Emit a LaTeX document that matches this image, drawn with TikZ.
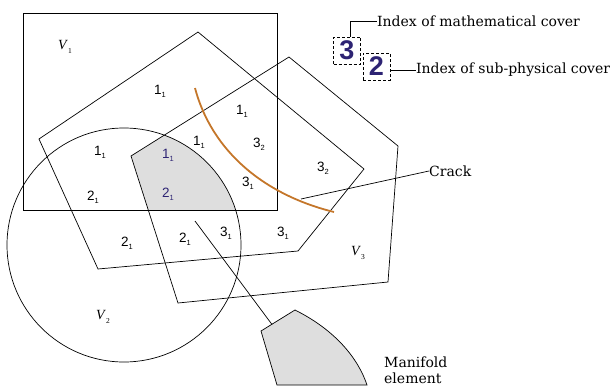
\documentclass[tikz,border=0pt]{standalone}
\usepackage{fontspec}
\setmainfont{DejaVu Serif}
\newfontfamily\numfont{Liberation Sans}
\newfontfamily\vfont{Liberation Serif}
\definecolor{crackc}{RGB}{196,118,42}
\definecolor{idxblue}{RGB}{45,35,115}
\definecolor{greyfill}{RGB}{222,222,222}
\newcommand\sublab[2]{#1\raisebox{-0.4ex}{\fontsize{7.5}{7.5}\selectfont #2}}
\newcommand\vlab[1]{\textit{V}\raisebox{-0.5ex}{\fontsize{7.5}{7.5}\selectfont\upshape #1}}
\tikzset{
  edge/.style={draw=black, line width=0.7pt},
  num/.style={font=\numfont\fontsize{13.5}{13.5}\selectfont, inner sep=0pt},
  bnum/.style={num, text=idxblue},
  vl/.style={font=\vfont\fontsize{14}{14}\selectfont, inner sep=0pt},
  txt/.style={font=\fontsize{14}{16}\selectfont, inner sep=0pt},
  legbox/.style={draw=black, dash pattern=on 3pt off 2pt, line width=1pt, minimum width=27pt, minimum height=27pt, inner sep=0pt, text=idxblue, font=\numfont\bfseries\fontsize{27}{27}\selectfont},
  crackline/.style={draw=crackc, line width=1.8pt},
  leader/.style={draw=black, line width=0.7pt}
}
\begin{document}
\begin{tikzpicture}[x=1pt,y=-1pt]
\useasboundingbox (0,0) rectangle (614,386);
% shaded region
\begin{scope}
  \clip (124,245) circle[radius=117pt];
  \clip (23,13) rectangle (277,210);
  \fill[greyfill] (131,156) -- (289,57) -- (398,146) -- (388,282) -- (178,303) -- cycle;
\end{scope}
% rectangle V1
\draw[edge] (23,13) rectangle (277,210);
% pentagon 1
\draw[edge] (198,32) -- (364,169) -- (298,251) -- (98,269) -- (39,139) -- cycle;
% pentagon 2 (V3)
\draw[edge] (131,156) -- (289,57) -- (398,146) -- (388,282) -- (178,303) -- cycle;
% circle V2
\draw[edge] (124,245) circle[radius=117pt];
% crack
\draw[crackline] (195,88) .. controls (212,152) and (265,195) .. (334,212);
% manifold element
\draw[edge, fill=greyfill] (261,331) -- (295,310) .. controls (335,330) and (358,358) .. (367,385) -- (277,385) -- cycle;

% labels
\node[vl] (v1) at (65,47) {\vlab{1}};
\node[vl] (v2) at (103,317) {\vlab{2}};
\node[vl] (v3) at (358,253) {\vlab{3}};
\node[num] (a1) at (160,91) {\sublab{1}{1}};
\node[num] (a2) at (242,111) {\sublab{1}{1}};
\node[num] (a3) at (199,142) {\sublab{1}{1}};
\node[num] (a4) at (259,144) {\sublab{3}{2}};
\node[num] (a5) at (100,152) {\sublab{1}{1}};
\node[bnum] (a6) at (168,155) {\sublab{1}{1}};
\node[num] (a7) at (248,183) {\sublab{3}{1}};
\node[bnum] (a8) at (168,194) {\sublab{2}{1}};
\node[num] (a9) at (93,197) {\sublab{2}{1}};
\node[num] (a10) at (127,243) {\sublab{2}{1}};
\node[num] (a11) at (185,239) {\sublab{2}{1}};
\node[num] (a12) at (226,233) {\sublab{3}{1}};
\node[num] (a13) at (283,233) {\sublab{3}{1}};
\node[num] (a14) at (323,168) {\sublab{3}{2}};

% crack leader
\node[txt, anchor=west] (crack) at (429,171) {Crack};
\coordinate (cp) at (301,199);
\draw[leader] (cp) -- (crack.west);

% manifold leader
\coordinate (m0) at (195,221);
\coordinate (m1) at (272,324.5);
\draw[leader] (m0) -- (m1);
\node[txt, anchor=north west, align=left] (mf) at (384,357) {Manifold\\element};

% legend
\node[legbox] (b3) at (347,50.5) {3};
\node[legbox] (b2) at (376.5,66.5) {2};
\node[txt, anchor=west] (t3) at (377,21) {Index of mathematical cover};
\node[txt, anchor=west] (t2) at (416,70) {Index of sub-physical cover};
\coordinate (k3) at (350,21);
\draw[leader] (b3.north -| k3) -- (k3) -- (t3.west);
\draw[leader] (t2.west -| b2.east) -- (t2.west);
\end{tikzpicture}
\end{document}
